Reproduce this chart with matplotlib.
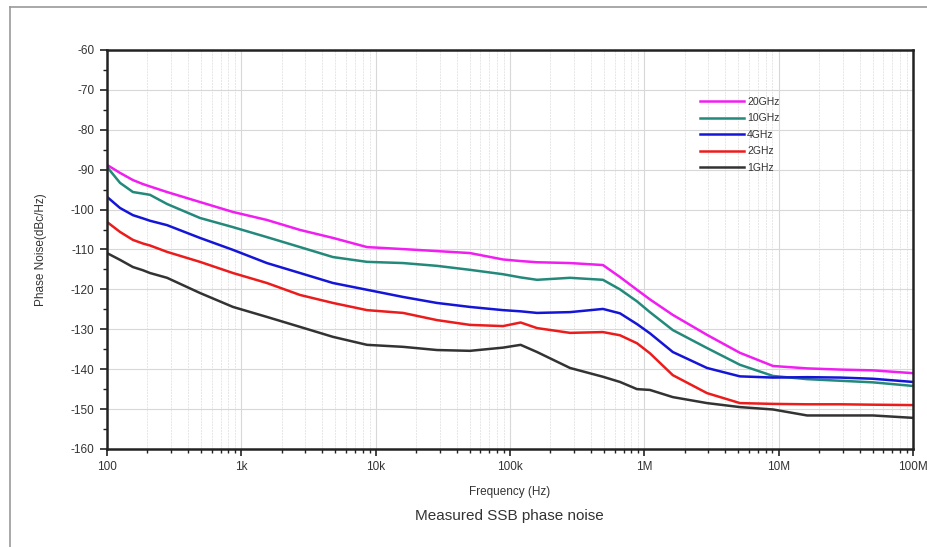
import matplotlib
matplotlib.use("Agg")
import matplotlib.pyplot as plt
from matplotlib.ticker import FixedLocator, MultipleLocator, LogLocator, NullFormatter
from matplotlib.lines import Line2D

plt.rcParams['font.family'] = ['Liberation Sans', 'DejaVu Sans']
plt.rcParams['axes.unicode_minus'] = False

freq_hz = [100, 125, 156, 185, 209, 280, 492, 867, 1550, 2735, 4810, 8625,
           16.0e3, 28.6e3, 50.4e3, 88.7e3, 120e3, 159e3, 280e3, 492e3, 659e3, 882e3,
           1.10e6, 1.63e6, 2.93e6, 5.15e6, 9.08e6, 16.3e6, 28.7e6, 50.4e6, 100e6]

pn_20ghz = [-88.8, -90.8, -92.6, -93.6, -94.2, -95.6, -98.1, -100.6, -102.6, -105.1, -107.1, -109.4,
            -109.9, -110.4, -110.9, -112.5, -112.9, -113.2, -113.4, -113.9, -116.9, -120.1,
            -122.5, -126.4, -131.4, -135.9, -139.2, -139.8, -140.1, -140.3, -141.0]
pn_10ghz = [-89.3, -93.3, -95.6, -96.0, -96.3, -98.6, -102.1, -104.4, -106.9, -109.4, -111.9, -113.1,
            -113.4, -114.1, -115.1, -116.2, -117.0, -117.6, -117.1, -117.6, -120.0, -123.0,
            -125.7, -130.2, -134.7, -138.9, -141.7, -142.5, -142.9, -143.3, -144.2]
pn_4ghz = [-96.8, -99.6, -101.4, -102.2, -102.8, -103.9, -107.1, -110.1, -113.4, -115.9, -118.4, -120.1,
           -121.9, -123.4, -124.4, -125.2, -125.5, -125.9, -125.7, -124.9, -126.0, -128.7,
           -131.0, -135.7, -139.7, -141.8, -142.1, -142.0, -142.1, -142.4, -143.2]
pn_2ghz = [-103.1, -105.6, -107.6, -108.5, -109.0, -110.6, -113.1, -115.9, -118.4, -121.4, -123.4, -125.2,
           -125.9, -127.7, -128.9, -129.2, -128.3, -129.7, -130.9, -130.7, -131.5, -133.5,
           -136.0, -141.5, -146.0, -148.5, -148.7, -148.8, -148.8, -148.9, -149.0]
pn_1ghz = [-110.9, -112.6, -114.4, -115.2, -115.9, -117.1, -120.9, -124.4, -126.9, -129.4, -131.9, -133.9,
           -134.4, -135.2, -135.4, -134.6, -133.9, -135.7, -139.7, -141.9, -143.2, -145.0,
           -145.2, -147.0, -148.5, -149.5, -150.1, -151.6, -151.6, -151.6, -152.2]

series = [("20GHz", pn_20ghz, "#f01ef0"),
          ("10GHz", pn_10ghz, "#23897a"),
          ("4GHz", pn_4ghz, "#1515d8"),
          ("2GHz", pn_2ghz, "#ec1c1c"),
          ("1GHz", pn_1ghz, "#333333")]

xtick_vals = [1e2, 1e3, 1e4, 1e5, 1e6, 1e7, 1e8]
xtick_labels = ["100", "1k", "10k", "100k", "1M", "10M", "100M"]
ytick_vals = list(range(-160, -59, 10))

fig = plt.figure(figsize=(9.28, 5.47), dpi=100)
ax = fig.add_axes([0.1153, 0.1792, 0.8685, 0.7294])

for name, vals, col in series:
    ax.plot(freq_hz, vals, color=col, lw=1.8, label=name)

ax.set_xscale('log')
ax.set_xlim(1e2, 1e8)
ax.set_ylim(-160, -60)
ax.xaxis.set_major_locator(FixedLocator(xtick_vals))
ax.set_xticklabels(xtick_labels)
ax.xaxis.set_minor_locator(LogLocator(base=10, subs=range(2, 10), numticks=20))
ax.xaxis.set_minor_formatter(NullFormatter())
ax.set_yticks(ytick_vals)
ax.yaxis.set_minor_locator(MultipleLocator(5))

ax.grid(True, which='major', axis='both', color='#d8d8d8', lw=0.8)
ax.grid(True, which='minor', axis='x', color='#e6e6e6', lw=0.7, ls=(0, (2, 1)))
ax.set_axisbelow(True)

for s in ax.spines.values():
    s.set_linewidth(1.8)
    s.set_color('#222222')

ax.tick_params(axis='both', which='major', direction='out', length=5, width=1.2,
               labelsize=8.5, labelcolor='#333333', color='#222222', pad=4)
ax.tick_params(axis='both', which='minor', direction='out', length=3, width=1.0, color='#222222')

ax.set_xlabel("Frequency (Hz)", fontsize=8.5, color='#333333', labelpad=9)
ax.set_ylabel("Phase Noise(dBc/Hz)", fontsize=8.5, color='#333333', labelpad=17)

leg = ax.legend(loc='upper left', bbox_to_anchor=(0.731, 0.893), frameon=False,
                fontsize=7.5, handlelength=4.2, handletextpad=0.3, labelspacing=0.62,
                borderaxespad=0)
for t in leg.get_texts():
    t.set_color('#333333')

fig.text(0.5485, 0.057, "Measured SSB phase noise", ha='center', va='center',
         fontsize=11, color='#333333')

# outer frame
fig.add_artist(Line2D([10/928, 10/928], [0, 1 - 7/547], transform=fig.transFigure,
                      color='#999999', lw=1.2))
fig.add_artist(Line2D([10/928, 1], [1 - 7/547, 1 - 7/547], transform=fig.transFigure,
                      color='#999999', lw=1.2))

fig.savefig("out.png", dpi=100)
